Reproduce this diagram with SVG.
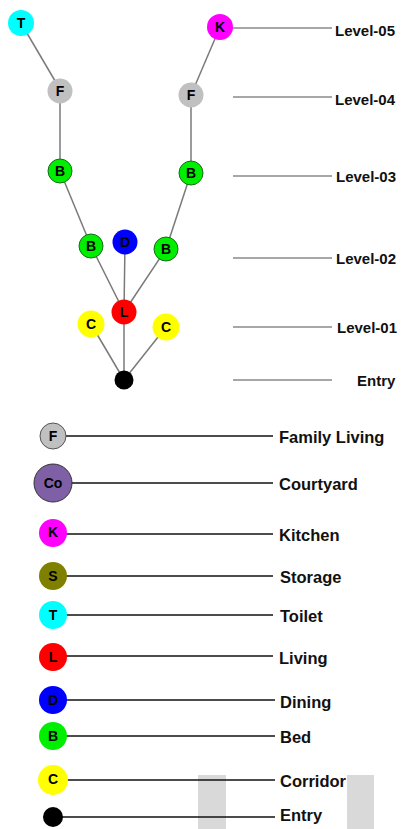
<svg xmlns="http://www.w3.org/2000/svg" width="401" height="829" viewBox="0 0 401 829">
<style>
.lab{font-family:"Liberation Sans",Arial,sans-serif;font-weight:bold;font-size:14px;fill:#000;text-anchor:middle;dominant-baseline:central}
.txt{font-family:"Liberation Sans",Arial,sans-serif;font-weight:bold;font-size:15px;fill:#111;dominant-baseline:central}
.lt{font-size:16.5px}
.edge{stroke:#7a7a7a;stroke-width:1.5;fill:none}
.lvl{stroke:#8a8a8a;stroke-width:1.5}
.leg{stroke:#111;stroke-width:1.5}
</style>
<rect width="401" height="829" fill="#fff"/>
<rect x="198" y="775" width="28" height="54" fill="#d9d9d9"/>
<rect x="347" y="775" width="27" height="54" fill="#d9d9d9"/>
<g id="connectors">
<line class="edge" x1="21" y1="23" x2="61" y2="91"/>
<line class="edge" x1="60" y1="91" x2="60" y2="171"/>
<line class="edge" x1="60" y1="171" x2="91" y2="246"/>
<line class="edge" x1="220" y1="27" x2="191" y2="95"/>
<line class="edge" x1="191" y1="95" x2="191" y2="173"/>
<line class="edge" x1="191" y1="173" x2="166" y2="249"/>
<line class="edge" x1="91" y1="246" x2="124" y2="312"/>
<line class="edge" x1="125" y1="242" x2="124" y2="312"/>
<line class="edge" x1="166" y1="249" x2="124" y2="312"/>
<line class="edge" x1="124" y1="312" x2="124" y2="380"/>
<line class="edge" x1="91" y1="324" x2="124" y2="380"/>
<line class="edge" x1="166" y1="327" x2="124" y2="380"/>
<line class="lvl" x1="220" y1="28" x2="332" y2="28"/>
<line class="lvl" x1="233" y1="97" x2="332" y2="97"/>
<line class="lvl" x1="233" y1="176" x2="332" y2="176"/>
<line class="lvl" x1="233" y1="258" x2="332" y2="258"/>
<line class="lvl" x1="233" y1="327" x2="332" y2="327"/>
<line class="lvl" x1="233" y1="380" x2="332" y2="380"/>
<line class="leg" x1="53" y1="436" x2="273" y2="436"/>
<line class="leg" x1="53" y1="483" x2="273" y2="483"/>
<line class="leg" x1="53" y1="534" x2="273" y2="534"/>
<line class="leg" x1="53" y1="576" x2="273" y2="576"/>
<line class="leg" x1="53" y1="615" x2="273" y2="615"/>
<line class="leg" x1="53" y1="656" x2="273" y2="656"/>
<line class="leg" x1="53" y1="700" x2="275" y2="700"/>
<line class="leg" x1="53" y1="736" x2="275" y2="736"/>
<line class="leg" x1="53" y1="780" x2="275" y2="780"/>
<line class="leg" x1="53" y1="817" x2="275" y2="817"/>
</g>
<g id="n-T"><circle cx="21" cy="23" r="13" fill="#00ffff"/><text class="lab" x="21" y="23">T</text></g>
<g id="n-K"><circle cx="220" cy="27" r="13" fill="#ff00ff"/><text class="lab" x="220" y="27">K</text></g>
<g id="n-F1"><circle cx="60" cy="91" r="12.5" fill="#c0c0c0"/><text class="lab" x="60" y="91">F</text></g>
<g id="n-F2"><circle cx="191" cy="95" r="12.5" fill="#c0c0c0"/><text class="lab" x="191" y="95">F</text></g>
<g id="n-B1"><circle cx="60" cy="171" r="12" fill="#00ee00" stroke="#1a6a1a" stroke-width="1"/><text class="lab" x="60" y="171">B</text></g>
<g id="n-B2"><circle cx="191" cy="173" r="12" fill="#00ee00" stroke="#1a6a1a" stroke-width="1"/><text class="lab" x="191" y="173">B</text></g>
<g id="n-B3"><circle cx="91" cy="246" r="12" fill="#00ee00" stroke="#1a6a1a" stroke-width="1"/><text class="lab" x="91" y="246">B</text></g>
<g id="n-D"><circle cx="125" cy="242" r="12.5" fill="#0000ff"/><text class="lab" x="125" y="242">D</text></g>
<g id="n-B4"><circle cx="166" cy="249" r="12" fill="#00ee00" stroke="#1a6a1a" stroke-width="1"/><text class="lab" x="166" y="249">B</text></g>
<g id="n-L"><circle cx="124" cy="312" r="12.5" fill="#ff0000"/><text class="lab" x="124" y="312">L</text></g>
<g id="n-C1"><circle cx="91" cy="324" r="13.5" fill="#ffff00"/><text class="lab" x="91" y="324">C</text></g>
<g id="n-C2"><circle cx="166" cy="327" r="13.5" fill="#ffff00"/><text class="lab" x="166" y="327">C</text></g>
<g id="n-E"><circle cx="124" cy="380" r="9.5" fill="#000"/></g>
<g id="levels">
<text class="txt" x="335" y="30">Level-05</text>
<text class="txt" x="335" y="99">Level-04</text>
<text class="txt" x="336" y="176">Level-03</text>
<text class="txt" x="336" y="258">Level-02</text>
<text class="txt" x="337" y="327">Level-01</text>
<text class="txt" x="357" y="380">Entry</text>
</g>
<g id="leg-F"><circle cx="53" cy="436" r="13" fill="#c0c0c0" stroke="#555" stroke-width="1"/><text class="lab" x="53" y="436">F</text><text class="txt lt" x="279" y="437">Family Living</text></g>
<g id="leg-Co"><circle cx="53" cy="483" r="19" fill="#7f5fa5" stroke="#333" stroke-width="1"/><text class="lab" x="53" y="483">Co</text><text class="txt lt" x="279" y="484">Courtyard</text></g>
<g id="leg-K"><circle cx="53" cy="533" r="14" fill="#ff00ff"/><text class="lab" x="53" y="532">K</text><text class="txt lt" x="279" y="535">Kitchen</text></g>
<g id="leg-S"><circle cx="53" cy="576" r="14" fill="#808000"/><text class="lab" x="53" y="576">S</text><text class="txt lt" x="280" y="577">Storage</text></g>
<g id="leg-T"><circle cx="53" cy="615" r="14" fill="#00ffff"/><text class="lab" x="53" y="615">T</text><text class="txt lt" x="280" y="616">Toilet</text></g>
<g id="leg-L"><circle cx="53" cy="657" r="14" fill="#ff0000"/><text class="lab" x="53" y="657">L</text><text class="txt lt" x="279" y="658">Living</text></g>
<g id="leg-D"><circle cx="53" cy="700" r="14" fill="#0000ff"/><text class="lab" x="53" y="700">D</text><text class="txt lt" x="280" y="702">Dining</text></g>
<g id="leg-B"><circle cx="53" cy="736" r="14" fill="#00ee00"/><text class="lab" x="53" y="736">B</text><text class="txt lt" x="280" y="737">Bed</text></g>
<g id="leg-C"><circle cx="53" cy="780" r="15" fill="#ffff00"/><text class="lab" x="53" y="779">C</text><text class="txt lt" x="280" y="781">Corridor</text></g>
<g id="leg-E"><circle cx="53" cy="817" r="10" fill="#000"/><text class="txt lt" x="280" y="815">Entry</text></g>
</svg>
